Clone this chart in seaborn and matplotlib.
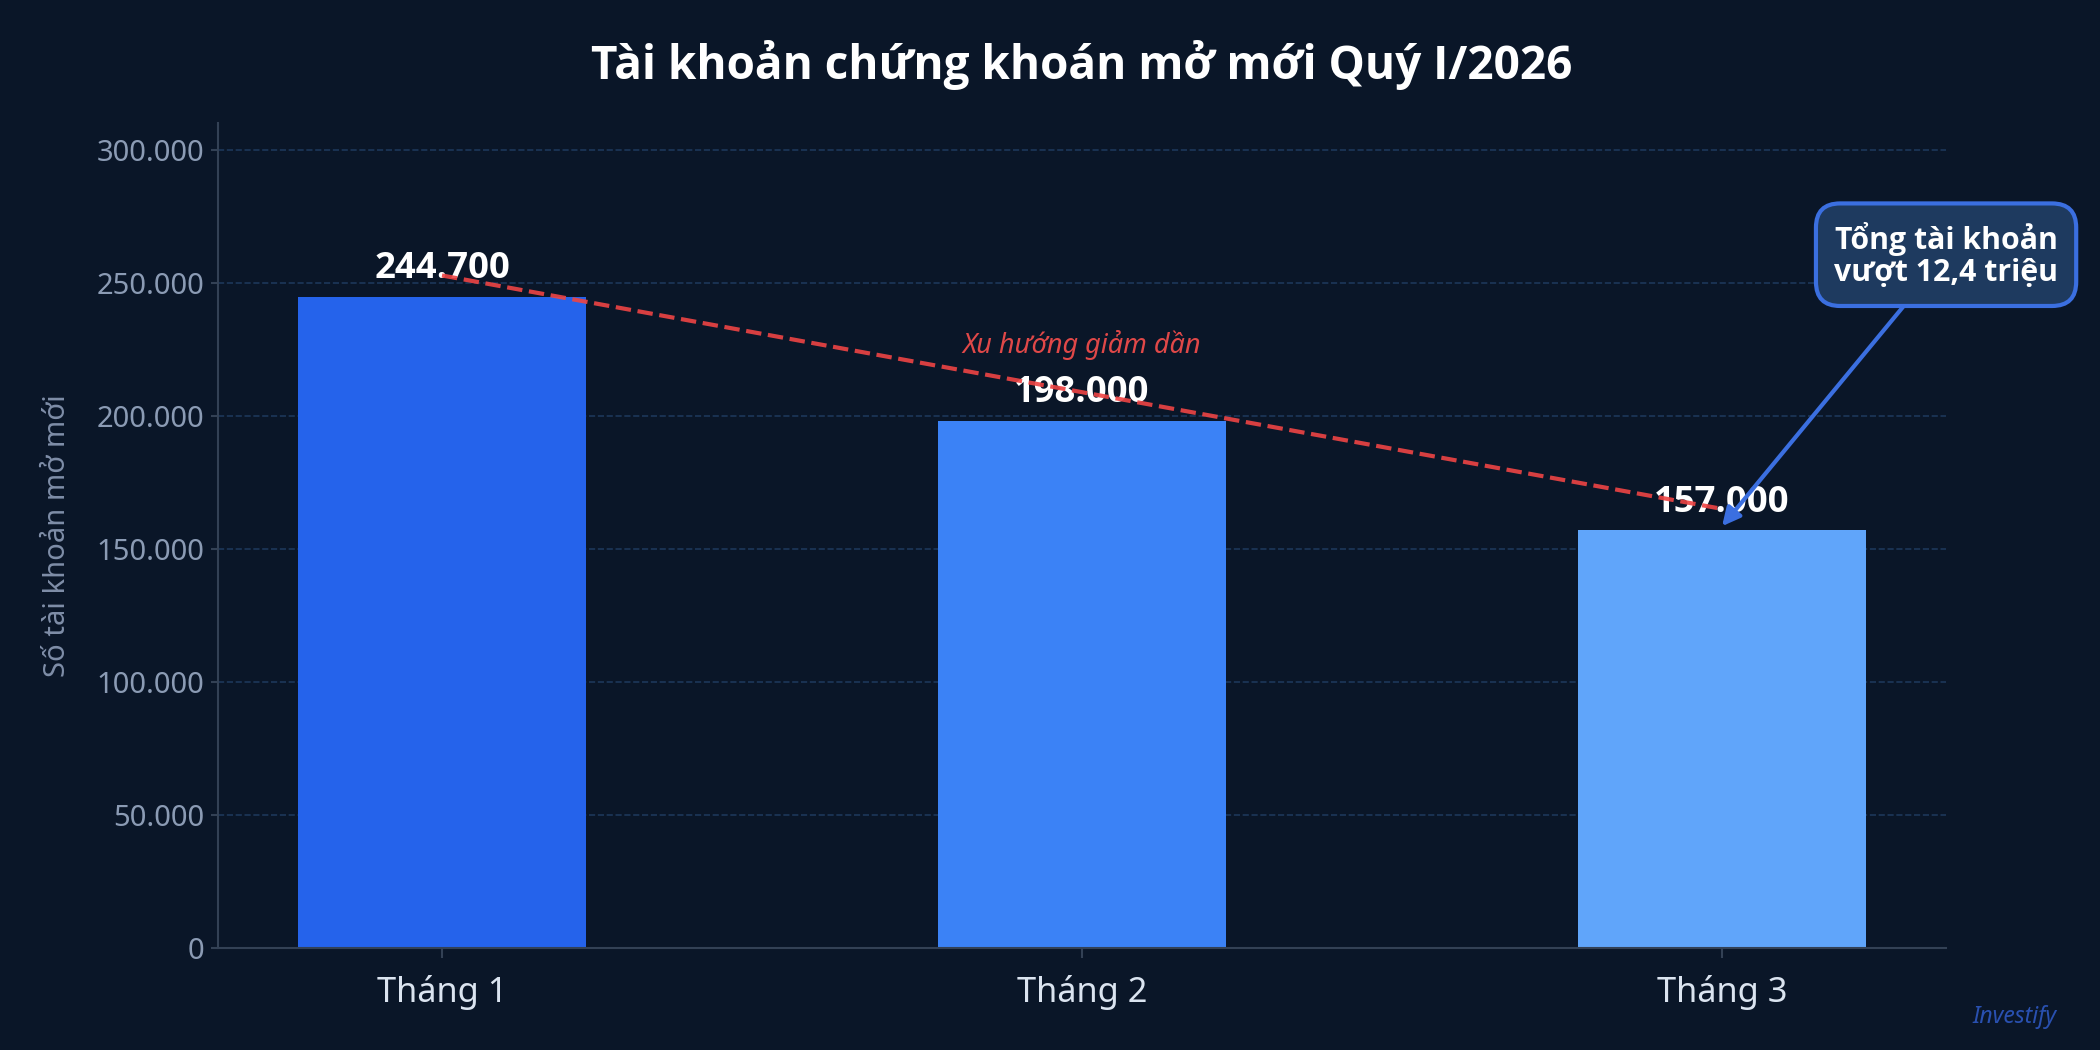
import matplotlib
matplotlib.use("Agg")
import matplotlib.pyplot as plt
import seaborn as sns
import pandas as pd
from matplotlib.ticker import FuncFormatter, MultipleLocator

months = ["Tháng 1", "Tháng 2", "Tháng 3"]
accounts = [244700, 198000, 157000]
bar_colors = ["#2563EB", "#3B82F6", "#60A5FA"]
value_labels = ["244.700", "198.000", "157.000"]
title = "Tài khoản chứng khoán mở mới Quý I/2026"
ylabel = "Số tài khoản mở mới"
trend_label = "Xu hướng giảm dần"
callout = "Tổng tài khoản\nvượt 12,4 triệu"
watermark = "Investify"

BG = "#0a1628"
BOLD = ["Open Sans", "Noto Sans", "DejaVu Sans"]

sns.set_theme(style="dark")
plt.rcParams["font.family"] = ["Noto Sans", "DejaVu Sans"]

df = pd.DataFrame({"month": months, "accounts": accounts})

fig = plt.figure(figsize=(14, 7), dpi=150, facecolor=BG)
ax = fig.add_axes([0.1038, 0.0971, 0.8229, 0.7858])
ax.set_facecolor(BG)

sns.barplot(data=df, x="month", y="accounts", hue="month", palette=bar_colors,
            width=0.45, legend=False, ax=ax, saturation=1,
            edgecolor="none", linewidth=0)

ax.set_ylim(0, 310000)
ax.set_xlim(-0.35, 2.35)
ax.yaxis.set_major_locator(MultipleLocator(50000))
ax.yaxis.set_major_formatter(FuncFormatter(lambda v, p: f"{int(v):,}".replace(",", ".")))

ax.grid(axis="y", color="#1e3a5f", linestyle="--", linewidth=0.8, alpha=0.9)
ax.grid(axis="x", visible=False)
ax.set_axisbelow(True)

for s in ["top", "right"]:
    ax.spines[s].set_visible(False)
for s in ["left", "bottom"]:
    ax.spines[s].set_color("#334155")
    ax.spines[s].set_linewidth(1.0)

ax.tick_params(axis="y", colors="#334155", labelcolor="#8b9bb4", labelsize=14,
               length=3.5, width=1, left=True, pad=3)
ax.tick_params(axis="x", colors="#334155", labelcolor="#dbe4f0", labelsize=16.5,
               length=5, width=1, bottom=True, pad=8)

ax.set_xlabel("")
ax.set_ylabel(ylabel, color="#7f8ea8", fontsize=14, labelpad=12)

ax.set_title(title, color="white", fontsize=22, fontweight="bold", pad=21,
             family=BOLD)

# value labels
for i, (v, lab) in enumerate(zip(accounts, value_labels)):
    ax.text(i, v + 7000, lab, ha="center", va="baseline", color="white",
            fontsize=17.5, fontweight="bold", family=BOLD, zorder=4)

# trend line
ax.plot([0, 2], [accounts[0] + 8000, accounts[2] + 8000], color="#ef4444",
        linestyle="--", linewidth=2, alpha=0.9, zorder=5)
ax.text(1, 226500, trend_label, ha="center", va="center", color="#e04848",
        fontsize=13, fontstyle="italic", zorder=5)

# callout
ax.annotate(callout, xy=(2, 158500), xytext=(2.35, 260500),
            ha="center", va="center", color="white", fontsize=14.5,
            fontweight="bold", family=BOLD, linespacing=1.1,
            bbox=dict(boxstyle="round,pad=0.6,rounding_size=0.8",
                      fc="#1e3a5f", ec="#3b6fe0", lw=2),
            arrowprops=dict(arrowstyle="-|>", color="#3b6fe0", lw=2,
                            mutation_scale=18, shrinkA=0, shrinkB=0),
            annotation_clip=False, zorder=6)

fig.text(0.9795, 0.026, watermark, ha="right", va="baseline", color="#2f5bc9",
         fontsize=11, fontstyle="italic", alpha=0.85)

fig.savefig("out.png", dpi=150, facecolor=BG)
